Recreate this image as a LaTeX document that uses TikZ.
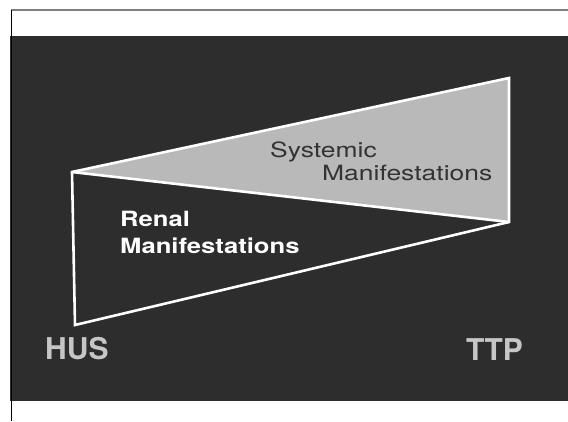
\documentclass[tikz,border=0pt]{standalone}
\usepackage{fontspec}
\setmainfont{TeX Gyre Heros}
\newfontfamily\widefont[FakeStretch=1.22]{TeX Gyre Heros}
\newfontfamily\widerfont[FakeStretch=1.26]{TeX Gyre Heros}
\definecolor{slide}{HTML}{2D2D2D}
\definecolor{sysfill}{HTML}{B9B9B9}
\definecolor{systext}{HTML}{333333}
\definecolor{endtext}{HTML}{C6C6C6}
\begin{document}
\begin{tikzpicture}[x=1pt,y=-1pt,
  edge/.style={draw=white,line width=2.6pt,line join=miter},
  renallbl/.style={anchor=base west,inner sep=0pt,text=white,font=\widefont\bfseries\fontsize{21}{27}\selectfont},
  syslbl/.style={anchor=base west,inner sep=0pt,text=systext,font=\widerfont\fontsize{21}{27}\selectfont},
  endlbl/.style={anchor=base west,inner sep=0pt,text=endtext,font=\bfseries\fontsize{30}{34}\selectfont}]
  \useasboundingbox (0,0) rectangle (568,421);
  \fill[white] (0,0) rectangle (568,421);
  \fill[slide] (10,36) rectangle (568,401);
  \draw[gray,line width=1.2pt] (11,10) -- (568,10);
  \draw[black,line width=1pt] (11,10) -- (11,421);
		\coordinate (0) at (72,172); %left top
		\coordinate (1) at (509,78); %right top
		\coordinate (2) at (509,222); %right middle
		\coordinate (3) at (75,325); %left bottom
		\fill[sysfill] (0) -- (1) -- (2) -- cycle;
		\draw[edge] (0) -- (1) -- (2) -- (3) -- cycle;
		\draw[edge] (0) to (2);
        \node[syslbl] (systemic) at (270,157) {Systemic};
        \node[syslbl] (sysmanif) at (322,180) {Manifestations};
        \node[renallbl] (renal) at (120,226) {Renal};
        \node[renallbl] (renmanif) at (120,253) {Manifestations};
        \node[endlbl] (hus) at (45,359) {HUS};
        \node[endlbl] (ttp) at (466,360) {TTP};
    \end{tikzpicture}
\end{document}
